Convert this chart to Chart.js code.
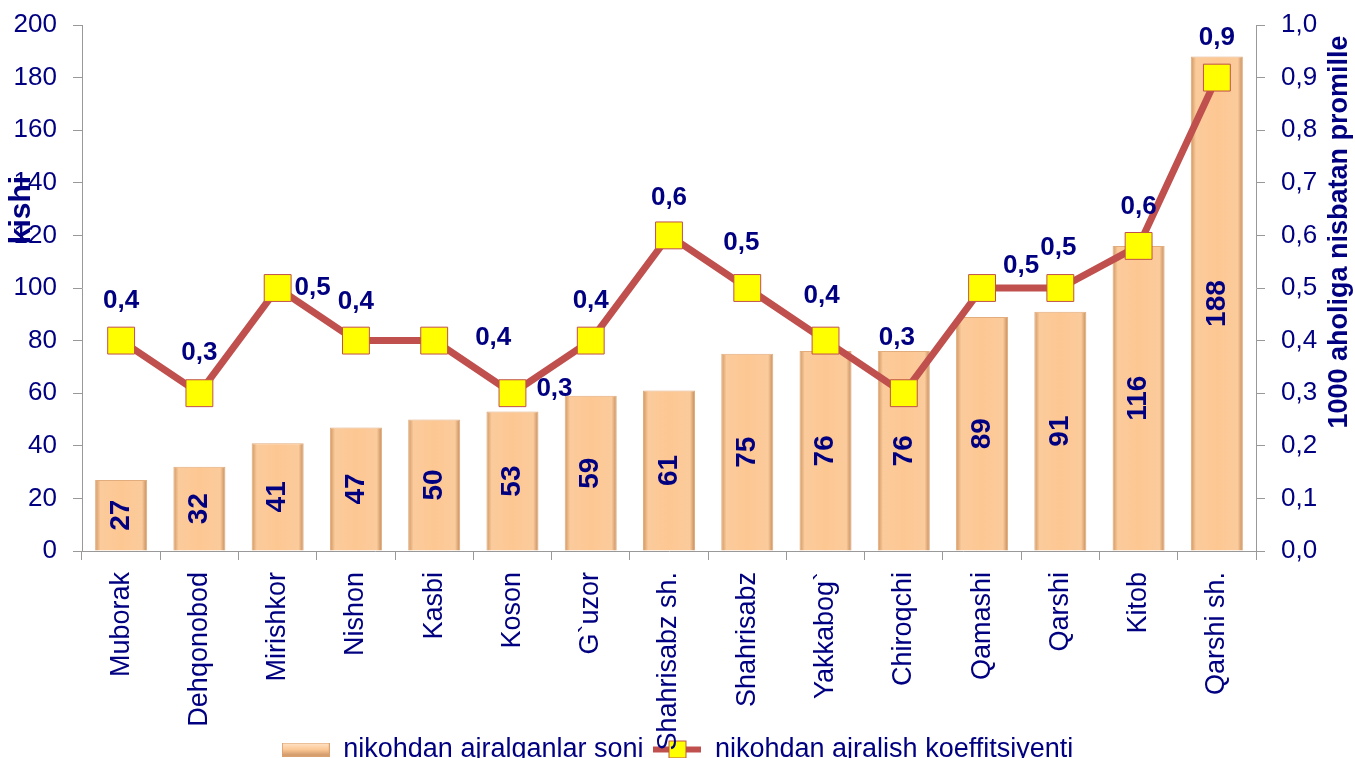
<!DOCTYPE html>
<html>
<head>
<meta charset="utf-8">
<script src="https://cdn.jsdelivr.net/npm/chart.js@4/dist/chart.umd.min.js"></script>
<style>
  html, body { margin: 0; padding: 0; background: #fff; overflow: hidden; }
  #wrap { width: 1355px; height: 800px; position: relative; }
</style>
</head>
<body>
<div id="wrap"><canvas id="chart"></canvas></div>
<script>
// tumanlar (kategoriyalar)
const districts = ['Muborak', 'Dehqonobod', 'Mirishkor', 'Nishon', 'Kasbi', 'Koson', 'G`uzor',
  'Shahrisabz sh.', 'Shahrisabz', 'Yakkabog`', 'Chiroqchi', 'Qamashi', 'Qarshi', 'Kitob', 'Qarshi sh.'];
// nikohdan ajralganlar soni (kishi)
const divorces = [27, 32, 41, 47, 50, 53, 59, 61, 75, 76, 76, 89, 91, 116, 188];
// 1000 aholiga nisbatan koeffitsiyent
const rates = [0.4, 0.3, 0.5, 0.4, 0.4, 0.3, 0.4, 0.6, 0.5, 0.4, 0.3, 0.5, 0.5, 0.58, 0.9];

const leftTicks = { min: 0, max: 200, step: 20 };
const rightTicks = { min: 0, max: 1, step: 0.1 };

const barLabel = 'nikohdan ajralganlar soni';
const lineLabel = 'nikohdan ajralish koeffitsiyenti';
const leftTitle = 'kishi';
const rightTitle = '1000 aholiga nisbatan promille';

const navy = '#000080';
const lineRed = '#C0504D';

// chiziq yorliqlarining nuqtaga nisbatan siljishi (px)
const rateLabelShift = [[0, -40], [0, -40], [35, 0], [0, -39], [59, -3], [42, -4], [0, -40],
  [0, -38], [-6, -45], [-4, -45], [-7, -55], [39, -22], [-2, -40], [0, -39], [0, -40]];

const fmt = v => v.toFixed(1).replace('.', ',');

function barGradient(ctx, x, w) {
  const g = ctx.createLinearGradient(x - w / 2, 0, x + w / 2, 0);
  g.addColorStop(0, '#CF955F');
  g.addColorStop(0.1, '#FBCB9C');
  g.addColorStop(0.5, '#FDC792');
  g.addColorStop(0.9, '#FBCB9C');
  g.addColorStop(1, '#C38958');
  return g;
}

// legend belgilari
function barSwatch() {
  const c = document.createElement('canvas');
  c.width = 48; c.height = 14;
  const x = c.getContext('2d');
  const g = x.createLinearGradient(0, 0, 0, 14);
  g.addColorStop(0, '#FFE6CC');
  g.addColorStop(0.5, '#FCC896');
  g.addColorStop(1, '#C98F60');
  x.fillStyle = g;
  x.fillRect(0, 0, 48, 14);
  x.strokeStyle = '#D9A070';
  x.strokeRect(0.5, 0.5, 47, 13);
  return c;
}
function lineSwatch() {
  const c = document.createElement('canvas');
  c.width = 48; c.height = 22;
  const x = c.getContext('2d');
  x.fillStyle = lineRed;
  x.fillRect(0, 8, 48, 6);
  x.fillStyle = '#FFFF00';
  x.fillRect(15, 2, 18, 18);
  x.strokeStyle = lineRed;
  x.lineWidth = 1;
  x.strokeRect(15.5, 2.5, 17, 17);
  return c;
}
const swatches = [barSwatch(), lineSwatch()];

// ma'lumot yorliqlari va o'q sarlavhalari
const labelsPlugin = {
  id: 'valueLabels',
  afterLayout(chart) {
    // legend x o'q yozuvlari ustiga tushadi (asl rasmdagidek)
    const lg = chart.legend;
    if (lg) {
      const h = lg.height;
      lg.top = chart.chartArea.bottom + 175;
      lg.bottom = lg.top + h;
    }
  },
  afterDatasetsDraw(chart) {
    const ctx = chart.ctx;
    ctx.save();
    ctx.fillStyle = navy;
    ctx.textAlign = 'center';
    ctx.textBaseline = 'middle';
    // ustun ichidagi qiymatlar
    ctx.font = 'bold 28px "Liberation Sans", Arial, sans-serif';
    chart.getDatasetMeta(0).data.forEach((bar, i) => {
      const midY = (bar.y + bar.base) / 2;
      ctx.save();
      ctx.translate(bar.x, midY);
      ctx.rotate(-Math.PI / 2);
      ctx.fillText(String(divorces[i]), 0, 0);
      ctx.restore();
    });
    // koeffitsiyent qiymatlari
    ctx.font = 'bold 26px "Liberation Sans", Arial, sans-serif';
    chart.getDatasetMeta(1).data.forEach((pt, i) => {
      const s = rateLabelShift[i];
      ctx.fillText(fmt(rates[i]), pt.x + s[0], pt.y + s[1]);
    });
    ctx.restore();
  },
  afterDraw(chart) {
    const ctx = chart.ctx;
    ctx.save();
    ctx.fillStyle = navy;
    ctx.textAlign = 'center';
    ctx.textBaseline = 'middle';
    ctx.font = 'bold 30px "Liberation Sans", Arial, sans-serif';
    ctx.translate(22, 210);
    ctx.rotate(-Math.PI / 2);
    ctx.fillText(leftTitle, 0, 0);
    ctx.restore();
    ctx.save();
    ctx.fillStyle = navy;
    ctx.textAlign = 'center';
    ctx.textBaseline = 'middle';
    ctx.font = 'bold 27px "Liberation Sans", Arial, sans-serif';
    ctx.translate(1340, 232);
    ctx.rotate(-Math.PI / 2);
    ctx.fillText(rightTitle, 0, 0);
    ctx.restore();
  }
};

const tickFont = { family: '"Liberation Sans", Arial, sans-serif', size: 26 };

const ctx = document.getElementById('chart').getContext('2d');
const chart = new Chart(ctx, {
  type: 'bar',
  data: {
    labels: districts,
    datasets: [
      {
        type: 'bar',
        label: barLabel,
        data: divorces,
        yAxisID: 'y',
        order: 2,
        backgroundColor: c => {
          const sc = c.chart.scales.x;
          if (!sc || c.dataIndex === undefined) return '#FCC896';
          const x = sc.getPixelForValue(c.dataIndex);
          const w = (sc.width / districts.length) * 0.665;
          if (!Number.isFinite(x) || !Number.isFinite(w) || w <= 0) return '#FCC896';
          return barGradient(c.chart.ctx, x, w);
        },
        borderColor: '#E2AC7C',
        borderWidth: 1,
        categoryPercentage: 1,
        barPercentage: 0.665
      },
      {
        type: 'line',
        label: lineLabel,
        data: rates,
        yAxisID: 'y1',
        order: 1,
        borderColor: lineRed,
        borderWidth: 7,
        pointStyle: 'rect',
        pointRadius: 19,
        pointHoverRadius: 19,
        pointBackgroundColor: '#FFFF00',
        pointBorderColor: lineRed,
        pointBorderWidth: 1,
        fill: false,
        tension: 0
      }
    ]
  },
  options: {
    responsive: true,
    maintainAspectRatio: false,
    animation: false,
    layout: { padding: { top: 25, left: 0, right: 0, bottom: 0 } },
    scales: {
      x: {
        grid: { drawOnChartArea: false, tickLength: 9, color: '#999' },
        border: { color: '#999' },
        ticks: {
          color: navy,
          font: { family: tickFont.family, size: 27 },
          minRotation: 90,
          maxRotation: 90,
          autoSkip: false,
          padding: 12
        },
        afterFit: s => { s.height = 202; }
      },
      y: {
        position: 'left',
        min: leftTicks.min,
        max: leftTicks.max,
        ticks: { stepSize: leftTicks.step, color: navy, font: tickFont, padding: 16 },
        grid: { drawOnChartArea: false, tickLength: 9, color: '#999' },
        border: { color: '#999' },
        afterFit: s => { s.width = 82; s.paddingTop = 0; s.paddingBottom = 0; }
      },
      y1: {
        position: 'right',
        min: rightTicks.min,
        max: rightTicks.max,
        ticks: { stepSize: rightTicks.step, color: navy, font: tickFont, padding: 16, callback: v => fmt(v) },
        grid: { drawOnChartArea: false, tickLength: 9, color: '#999' },
        border: { color: '#999' },
        afterFit: s => { s.width = 99; s.paddingTop = 0; s.paddingBottom = 0; }
      }
    },
    plugins: {
      legend: {
        position: 'bottom',
        labels: {
          color: navy,
          font: { family: tickFont.family, size: 27 },
          usePointStyle: true,
          pointStyleWidth: 48,
          padding: 10,
          sort: (a, b) => a.datasetIndex - b.datasetIndex,
          generateLabels: function(chart) {
            const items = Chart.defaults.plugins.legend.labels.generateLabels(chart);
            items.forEach(it => { it.pointStyle = swatches[it.datasetIndex]; });
            return items;
          }
        }
      },
      tooltip: { enabled: false }
    }
  },
  plugins: [labelsPlugin]
});
</script>
</body>
</html>
